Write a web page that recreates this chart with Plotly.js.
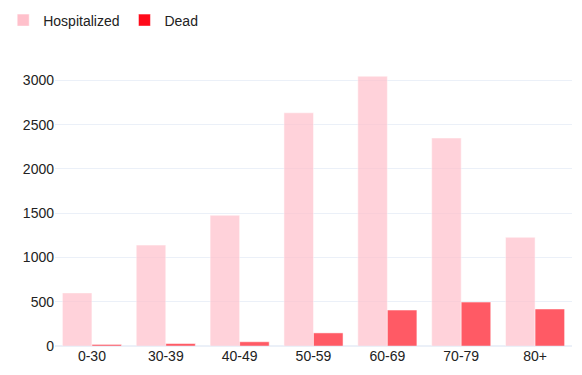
<!DOCTYPE html>
<html>
<head>
<meta charset="utf-8">
<script src="https://cdn.plot.ly/plotly-3.0.1.min.js"></script>
<style>html,body{margin:0;padding:0;background:#fff}#chart{width:582px;height:375px}</style>
</head>
<body>
<div id="chart"></div>
<script>
const ageGroups = ["0-30", "30-39", "40-49", "50-59", "60-69", "70-79", "80+"];
const hospitalized = [600, 1140, 1477, 2635, 3048, 2350, 1228];
const dead = [18, 28, 48, 148, 406, 496, 418];

const traces = [
  {
    type: "bar", name: "Hospitalized", x: ageGroups, y: hospitalized,
    marker: {color: "pink", opacity: 0.7, line: {color: "white", width: 0.5}}
  },
  {
    type: "bar", name: "Dead", x: ageGroups, y: dead,
    marker: {color: "#ff0a1a", opacity: 0.67, line: {color: "white", width: 0.5}}
  }
];

const layout = {
  width: 582, height: 375,
  margin: {l: 55, r: 10, t: 62, b: 29, pad: 0},
  paper_bgcolor: "white", plot_bgcolor: "white",
  font: {family: "Liberation Sans, Arial, sans-serif", size: 14, color: "#222"},
  bargap: 0.2, bargroupgap: 0,
  showlegend: true,
  legend: {orientation: "h", xref: "container", yref: "container", x: 0.0055, y: 0.988, xanchor: "left", yanchor: "top", font: {size: 14}},
  xaxis: {showgrid: false, zeroline: false, showline: false, ticks: "", automargin: false},
  yaxis: {gridcolor: "#EBF0F8", zeroline: true, zerolinecolor: "#EBF0F8", zerolinewidth: 2, showline: false, ticks: "", automargin: false}
};

Plotly.newPlot("chart", traces, layout, {displayModeBar: false, staticPlot: true});
</script>
</body>
</html>
